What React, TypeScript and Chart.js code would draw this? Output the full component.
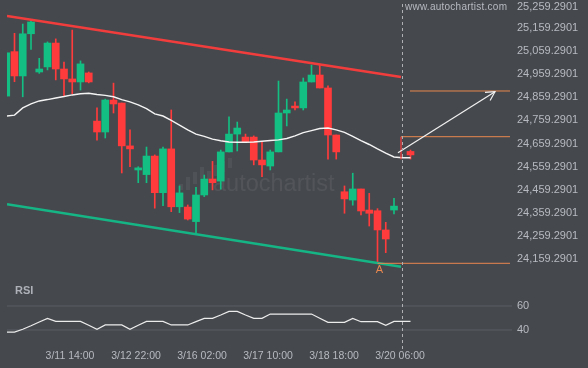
import React, { useEffect, useRef } from 'react';
import { Chart, registerables } from 'chart.js';

Chart.register(...registerables);

// ---- data ----
const candleX = [0,1,2,3,4,5,6,7,8,9,10,11,12,13,14,15,16,17,18,19,20,21,22,23,24,25,26,27,28,29,30,31,32,33,34,35,36,37,38,39,40,41,42,43,44,45,46,47,49];
const opens = [24864,25056,24951,25133,24968,24990,25093,24981,24938,24925,24964,24756,24709,24847,24834,24649,24545,24525,24605,24447,24636,24386,24385,24322,24437,24506,24497,24623,24700,24687,24687,24588,24562,24623,24791,24821,24813,24925,24955,24899,24696,24451,24415,24463,24372,24369,24286,24372,24625];
const highs = [25063,25135,25175,25193,25027,25098,25111,25011,25149,25016,24968,24813,24851,24920,24834,24718,24559,24644,24610,24644,24804,24476,24394,24470,24523,24582,24631,24774,24752,24700,24692,24665,24631,24929,24851,24839,24942,24998,24998,24908,24696,24476,24531,24463,24444,24378,24319,24423,24631];
const lows = [24860,24926,24861,25066,24962,24977,24934,24864,24873,24890,24921,24674,24683,24791,24532,24559,24490,24490,24380,24391,24365,24361,24329,24269,24430,24459,24462,24623,24627,24666,24567,24516,24545,24623,24735,24804,24804,24925,24899,24592,24592,24358,24393,24351,24303,24142,24188,24355,24592];
const closes = [25051,24951,25133,25184,24981,25093,24981,24938,24925,25003,24925,24709,24847,24830,24649,24636,24554,24605,24447,24636,24386,24446,24333,24437,24506,24490,24623,24700,24726,24666,24588,24567,24623,24791,24804,24813,24925,24955,24899,24696,24623,24420,24463,24368,24358,24286,24247,24389,24610];

const lineX = [0,1,2,3,4,5,6,7,8,9,10,11,12,13,14,15,16,17,18,19,20,21,22,23,24,25,26,27,28,29,30,31,32,33,34,35,36,37,38,39,40,41,42,43,44,45,46,47,48,49];
const maValues = [24778,24782,24813,24830,24843,24849,24856,24862,24869,24874,24876,24871,24867,24861,24849,24839,24826,24810,24787,24778,24759,24739,24718,24700,24690,24678,24671,24666,24665,24665,24666,24669,24672,24675,24681,24692,24706,24715,24724,24726,24718,24707,24690,24672,24655,24636,24618,24601,24598,24598];
const rsiValues = [38.3,38.3,40.6,43.5,46.6,49.7,47.2,47.2,47.2,47.2,44,40.6,44.2,44.2,44.2,40.6,44,47.2,47.2,47.2,44.2,44.2,44.2,47,49.7,49.7,52.5,55.5,55.5,52.5,49.7,49.7,53.3,53.3,53.3,53.3,53.3,53.3,49.8,46.4,46.4,46.4,49.7,46.9,46.9,46.9,43.9,47.2,47.2,47.2];

const resistanceX = [0.09, 47.85];
const resistanceY = [25209.8, 24946.4];
const supportX = [0.09, 47.85];
const supportY = [24396.8, 24126.9];

const targetLevelX = [48.94, 61.06];
const targetLevelY = [24886, 24886];
const entryLevelX = [47.85, 61.06];
const entryLevelY = [24688.7, 24688.7];
const entryMarkX = [47.85, 47.85];
const entryMarkY = [24688.7, 24591];
const pointALevelX = [45, 61.06];
const pointALevelY = [24142, 24142];
const arrowX = [47.48, 59.24];
const arrowY = [24619.6, 24883];

const pointAIndex = 45;
const pointAPrice = 24142;
const currentTimeX = 47.91;

const dateTickPositions = [7.73, 15.73, 23.73, 31.73, 39.73, 47.73];
const dateTickLabels = ['3/11 14:00', '3/12 22:00', '3/16 02:00', '3/17 10:00', '3/18 18:00', '3/20 06:00'];
const priceTicks = [25259.2901, 25159.2901, 25059.2901, 24959.2901, 24859.2901, 24759.2901, 24659.2901, 24559.2901, 24459.2901, 24359.2901, 24259.2901, 24159.2901];
const rsiTicks = [60, 40];

// ---- style ----
const BG = '#45484d';
const GREEN = '#13bf82';
const RED = '#ff3b3b';
const ORANGE = '#e9884f';
const TEXT = '#b7bac0';
const FONT = '"Liberation Sans", Arial, sans-serif';

const pts = (xs: number[], ys: number[]) => xs.map((x, k) => ({ x, y: ys[k] }));

export default function App() {
  const ref = useRef<HTMLCanvasElement | null>(null);

  useEffect(() => {
    document.body.style.margin = '0';
    document.body.style.background = BG;
    const canvas = ref.current;
    if (!canvas) return;

    const candleColors = candleX.map((_, k) => (closes[k] >= opens[k] ? GREEN : RED));

    const overlay = {
      id: 'overlay',
      beforeDatasetsDraw(chart: any) {
        const ctx = chart.ctx as CanvasRenderingContext2D;
        ctx.save();
        // watermark logo bars
        ctx.fillStyle = 'rgba(255,255,255,0.06)';
        const bars = [[181, 184, 190], [188, 177, 190], [195, 172, 184], [202, 167, 178], [209, 171, 181], [216, 165, 176], [223, 161, 172], [230, 158, 168]];
        bars.forEach(([x, t, b]) => ctx.fillRect(x - 2, t, 4, b - t));
        ctx.fillStyle = 'rgba(255,255,255,0.07)';
        ctx.font = '23.5px ' + FONT;
        ctx.textBaseline = 'middle';
        ctx.textAlign = 'left';
        ctx.fillText('autochartist', 213, 185);
        ctx.restore();
      },
      afterDatasetsDraw(chart: any) {
        const ctx = chart.ctx as CanvasRenderingContext2D;
        const xs = chart.scales.x;
        const ys = chart.scales.y;
        const rs = chart.scales.rsi;
        ctx.save();

        // current time dashed line
        const dx = Math.round(xs.getPixelForValue(currentTimeX)) + 0.5;
        ctx.strokeStyle = '#aeb0b3';
        ctx.lineWidth = 1;
        ctx.setLineDash([3, 3]);
        ctx.beginPath();
        ctx.moveTo(dx, 4);
        ctx.lineTo(dx, 350);
        ctx.stroke();
        ctx.setLineDash([]);

        // arrow head
        const meta = chart.getDatasetMeta(chart.data.datasets.findIndex((d: any) => d.label === 'arrow'));
        if (meta && meta.data.length === 2) {
          const a = meta.data[0], b = meta.data[1];
          const ang = Math.atan2(b.y - a.y, b.x - a.x) + Math.PI;
          const L = 10;
          ctx.strokeStyle = '#f2f2f2';
          ctx.lineWidth = 1.2;
          ctx.beginPath();
          ctx.moveTo(b.x + L * Math.cos(ang + 0.5), b.y + L * Math.sin(ang + 0.5));
          ctx.lineTo(b.x, b.y);
          ctx.lineTo(b.x + L * Math.cos(ang - 0.5), b.y + L * Math.sin(ang - 0.5));
          ctx.stroke();
        }

        // point A label
        ctx.fillStyle = ORANGE;
        ctx.font = '11px ' + FONT;
        ctx.textAlign = 'center';
        ctx.textBaseline = 'middle';
        ctx.fillText('A', xs.getPixelForValue(pointAIndex) + 2, ys.getPixelForValue(pointAPrice) + 7);

        // price labels
        ctx.fillStyle = TEXT;
        ctx.font = '11px ' + FONT;
        ctx.textAlign = 'left';
        priceTicks.forEach((v) => {
          const y = Math.max(ys.getPixelForValue(v), 6.7);
          const s = v.toLocaleString('en-US', { minimumFractionDigits: 4, maximumFractionDigits: 4 });
          ctx.fillText(s, 517, y);
        });

        // RSI labels
        rsiTicks.forEach((v) => ctx.fillText(String(v), 517, rs.getPixelForValue(v)));

        // date labels
        ctx.textAlign = 'center';
        ctx.font = '10.5px ' + FONT;
        dateTickPositions.forEach((p, k) => ctx.fillText(dateTickLabels[k], xs.getPixelForValue(p), 356));

        // RSI title
        ctx.textAlign = 'left';
        ctx.font = 'bold 11px ' + FONT;
        ctx.fillStyle = '#aeb2b8';
        ctx.fillText('RSI', 15, 291);

        // site
        ctx.font = '10px ' + FONT;
        ctx.fillStyle = TEXT;
        (ctx as any).letterSpacing = '0.25px';
        ctx.fillText('www.autochartist.com', 405, 7);
        (ctx as any).letterSpacing = '0px';

        ctx.restore();
      },
    };

    const line = (label: string, data: any[], color: string, width: number, axis = 'y', order = 0) => ({
      type: 'line' as const,
      label,
      data,
      borderColor: color,
      borderWidth: width,
      pointRadius: 0,
      tension: 0,
      fill: false,
      yAxisID: axis,
      order,
    });

    const chart = new Chart(canvas, {
      type: 'bar',
      data: {
        datasets: [
          {
            type: 'bar',
            label: 'wicks',
            data: candleX.map((x, k) => ({ x, y: [lows[k], highs[k]] })) as any,
            backgroundColor: candleColors,
            barThickness: 1,
            grouped: false,
            borderWidth: 0,
            yAxisID: 'y',
            order: 5,
          } as any,
          {
            type: 'bar',
            label: 'bodies',
            data: candleX.map((x, k) => ({ x, y: [opens[k], closes[k]] })) as any,
            backgroundColor: candleColors,
            barThickness: 7,
            grouped: false,
            borderWidth: 0,
            yAxisID: 'y',
            order: 4,
          } as any,
          line('ma', pts(lineX, maValues), '#f4f4f4', 1.4, 'y', 3),
          line('resistance', pts(resistanceX, resistanceY), '#f23d3d', 2.5, 'y', 2),
          line('support', pts(supportX, supportY), '#16b585', 2.5, 'y', 2),
          line('target', pts(targetLevelX, targetLevelY), ORANGE, 1, 'y', 1),
          line('entry', pts(entryLevelX, entryLevelY), ORANGE, 1, 'y', 1),
          line('entryMark', pts(entryMarkX, entryMarkY), RED, 1.2, 'y', 1),
          line('pointA', pts(pointALevelX, pointALevelY), ORANGE, 1, 'y', 1),
          line('arrow', pts(arrowX, arrowY), '#f2f2f2', 1.2, 'y', 0),
          line('rsi60', pts([0.09, 61.3], [60, 60]), '#5b5f65', 1, 'rsi', 6),
          line('rsi40', pts([0.09, 61.3], [40, 40]), '#5b5f65', 1, 'rsi', 6),
          line('rsi', pts(lineX, rsiValues), '#ececec', 1.2, 'rsi', 0),
        ] as any,
      },
      options: {
        responsive: false,
        animation: false,
        events: [],
        layout: { padding: { left: 7, right: 76, top: 0, bottom: 0 } },
        plugins: { legend: { display: false }, tooltip: { enabled: false } },
        scales: {
          x: { type: 'linear', axis: 'x', min: 0.0909, max: 61.303, display: false, offset: false },
          y: { type: 'linear', axis: 'y', min: 23689.94, max: 25278.9, display: false },
          rsi: { type: 'linear', axis: 'y', position: 'right', min: 8.33, max: 315, display: false },
        },
      } as any,
      plugins: [overlay],
    });

    return () => chart.destroy();
  }, []);

  return (
    <div style={{ position: 'fixed', left: 0, top: 0, width: 588, height: 368, background: BG }}>
      <canvas ref={ref} width={588} height={368} style={{ display: 'block', width: 588, height: 368 }} />
    </div>
  );
}
